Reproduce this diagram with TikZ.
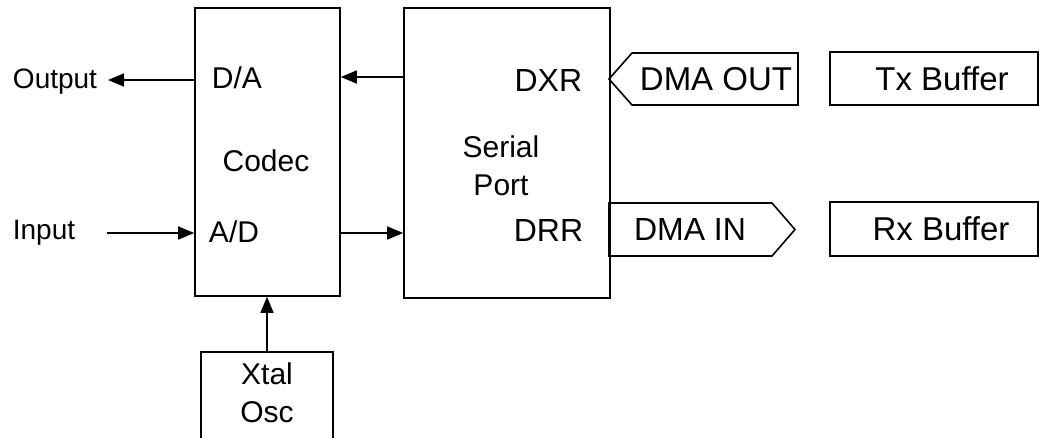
\documentclass[tikz,border=0pt]{standalone}
\usepackage{fontspec}
\setmainfont{Liberation Sans}
\usetikzlibrary{arrows.meta}
\begin{document}
\begin{tikzpicture}[x=1pt,y=-1pt,
  line width=1.6pt,
  block/.style={draw, rectangle, inner sep=0pt},
  lbl/.style={inner sep=0pt, font=\fontsize{30}{37.5}\selectfont},
  lblsmall/.style={lbl, font=\fontsize{28}{34}\selectfont},
  lblport/.style={lbl, font=\fontsize{32}{38}\selectfont},
  lblbuf/.style={lbl, font=\fontsize{33}{38}\selectfont},
  sig/.style={-{Triangle[length=16pt,width=13pt]}}]
\useasboundingbox (0,0) rectangle (1039,437);
\clip (0,0) rectangle (1039,437);

% main blocks
\node[block, minimum width=145pt, minimum height=288pt] (codec) at (267.5,152) {};
\node[block, minimum width=206pt, minimum height=290pt] (sport) at (507,153) {};
\node[block, minimum width=132pt, minimum height=110pt] (xtal) at (267,407) {};
\node[block, minimum width=208pt, minimum height=53pt] (txbuf) at (934,78.5) {};
\node[block, minimum width=208pt, minimum height=54pt] (rxbuf) at (934,229) {};

% DMA channel tags
\draw (609,79) -- (632,53) -- (798,53) -- (798,105) -- (632,105) -- cycle;
\draw (609,203) -- (772,203) -- (795,229.5) -- (772,256) -- (609,256) -- cycle;

% labels
\node[lblsmall] (outlbl) at (55,82) {Output};
\node[lblsmall] (inlbl) at (44,233) {Input};
\node[lbl] (da) at (237,78) {D/A};
\node[lbl] (ad) at (234,232) {A/D};
\node[lbl] at (266,161) {Codec};
\node[lblport, anchor=east] (dxr) at (583,80) {DXR};
\node[lblport, anchor=east] (drr) at (584,230) {DRR};
\node[lbl, align=center] at (501,166) {Serial\\Port};
\node[lblbuf] (dmaout) at (716,79) {DMA OUT};
\node[lblport] (dmain) at (690,229) {DMA IN};
\node[lblbuf] at (942,79) {Tx Buffer};
\node[lblbuf] at (941,229) {Rx Buffer};
\node[lbl, align=center] at (267,393) {Xtal\\Osc};

% connector end points
\coordinate (outend) at (108,80);
\coordinate (instart) at (107,233);

% connectors
\draw[sig] (codec.west |- 0,80) -- (outend);
\draw[sig] (instart) -- (codec.west |- 0,233);
\draw[sig] (sport.west |- 0,77) -- (codec.east |- 0,77);
\draw[sig] (codec.east |- 0,233) -- (sport.west |- 0,233);
\draw[sig] (xtal.north) -- (codec.south -| xtal.north);
\end{tikzpicture}
\end{document}
